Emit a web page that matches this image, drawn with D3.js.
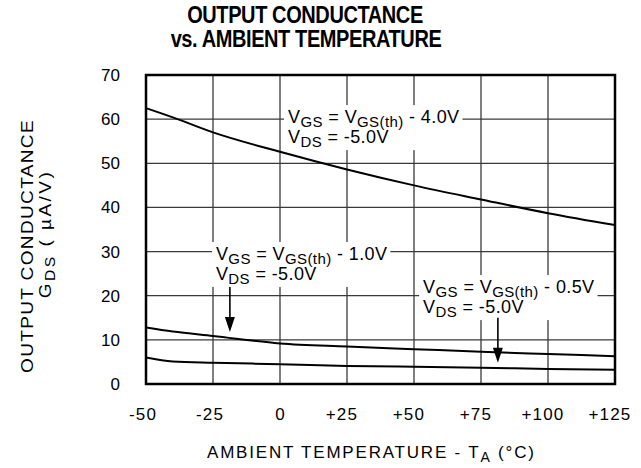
<!DOCTYPE html>
<html>
<head>
<meta charset="utf-8">
<script src="https://cdn.jsdelivr.net/npm/d3@7"></script>
<style>
  html, body { margin: 0; padding: 0; background: #fff; }
  svg { display: block; font-family: 'Liberation Sans', Arial, Helvetica, sans-serif; }
</style>
</head>
<body>
<div id="chart"></div>
<script>
/* -----------------    DATA     ------------------ */

// ambient temperature (°C)
const temps = [-50, -40, -25, 0, 25, 50, 75, 100, 125];

// output conductance GDS (µA/V), one series per gate drive
const gdsVgs40 = [62.5, 60.4, 57.0, 52.6, 48.6, 45.0, 41.8, 38.7, 36.0];
const gdsVgs10 = [12.8, 11.9, 10.9, 9.2, 8.5, 7.9, 7.3, 6.8, 6.3];
const gdsVgs05 = [6.0, 5.1, 4.8, 4.5, 4.1, 3.9, 3.7, 3.4, 3.2];

// ticks
const xTicks = [-50, -25, 0, 25, 50, 75, 100, 125];
const yTicks = [0, 10, 20, 30, 40, 50, 60, 70];

// curve labels (gate offsets below threshold)
const seriesOffsets = ['4.0', '1.0', '0.5'];

/* -----------------    SETTINGS     ------------------ */

const settings = {
    width: 641,
    height: 468,
    left: 146,
    right: 615,
    top: 75,
    bottom: 384,
    grid: '#3a3a3a',
    ink: '#000'
};

// where each label sits, in data units (temp, GDS at first baseline)
const labelAnchors = [
    { t: 3.0, g: 59.1 },
    { t: -23.9, g: 28.1 },
    { t: 53.4, g: 20.6 }
];

// arrows: temperature, from / to GDS
const arrows = [
    { t: -18.7, from: 22.0, to: 11.8 },
    { t: 81.3, from: 15.0, to: 4.8 }
];

/* -----------------    CHART     ------------------ */

const svg = d3.select('#chart')
    .append('svg')
    .attr('width', settings.width)
    .attr('height', settings.height);

const x = d3.scaleLinear()
    .domain([-50, 125])
    .range([settings.left, settings.right]);

const y = d3.scaleLinear()
    .domain([0, 70])
    .range([settings.bottom, settings.top]);

// grid
svg.append('g')
    .selectAll('line')
    .data(xTicks.slice(1, -1))
    .enter()
    .append('line')
    .attr('x1', d => x(d)).attr('x2', d => x(d))
    .attr('y1', settings.top).attr('y2', settings.bottom)
    .attr('stroke', settings.grid)
    .attr('stroke-width', 1.3);

svg.append('g')
    .selectAll('line')
    .data(yTicks.slice(1, -1))
    .enter()
    .append('line')
    .attr('x1', settings.left).attr('x2', settings.right)
    .attr('y1', d => y(d)).attr('y2', d => y(d))
    .attr('stroke', settings.grid)
    .attr('stroke-width', 1.3);

// curves
const line = d3.line()
    .x((d, i) => x(temps[i]))
    .y(d => y(d))
    .curve(d3.curveMonotoneX);

[gdsVgs40, gdsVgs10, gdsVgs05].forEach(series => {
    svg.append('path')
        .datum(series)
        .attr('d', line)
        .attr('fill', 'none')
        .attr('stroke', settings.ink)
        .attr('stroke-width', 2);
});

// frame
svg.append('rect')
    .attr('x', settings.left)
    .attr('y', settings.top)
    .attr('width', settings.right - settings.left)
    .attr('height', settings.bottom - settings.top)
    .attr('fill', 'none')
    .attr('stroke', settings.ink)
    .attr('stroke-width', 2.5);

// axes (labels only)
const xAxis = d3.axisBottom(x)
    .tickValues(xTicks)
    .tickSize(0)
    .tickPadding(24)
    .tickFormat(d => d > 0 ? '+' + d : String(d));

const gx = svg.append('g')
    .attr('transform', `translate(0, ${settings.bottom})`)
    .call(xAxis);
gx.select('.domain').remove();
gx.selectAll('text')
    .attr('font-size', 17)
    .attr('font-family', null)
    .attr('letter-spacing', 1.2)
    .attr('fill', settings.ink);

// keep the digits centred on the tick, sign hanging left
gx.selectAll('text').each(function (d) {
    if (d === 0) return;
    const probe = svg.append('text')
        .attr('font-size', 17)
        .attr('letter-spacing', 1.2)
        .text(d > 0 ? '+' : '-');
    const w = probe.node().getComputedTextLength();
    probe.remove();
    d3.select(this).attr('dx', -w / 2);
});

const yAxis = d3.axisLeft(y)
    .tickValues(yTicks)
    .tickSize(0)
    .tickPadding(26);

const gy = svg.append('g')
    .attr('transform', `translate(${settings.left}, 0)`)
    .call(yAxis);
gy.select('.domain').remove();
gy.selectAll('text')
    .attr('font-size', 17)
    .attr('font-family', null)
    .attr('fill', settings.ink);

/* -----------------    TEXT     ------------------ */

// text with subscripts: parts = [[string, isSub], ...]; [null, lineGap] starts a new line
function richText(sel, parts, size, subSize, drop) {
    let low = false;
    let newLine = null;
    const x0 = sel.attr('x');
    parts.forEach(([str, sub]) => {
        if (str === null) {
            newLine = sub - (low ? drop : 0);
            low = false;
            return;
        }
        const ts = sel.append('tspan').text(str)
            .attr('font-size', sub ? subSize : size);
        let dy = 0;
        if (newLine !== null) { ts.attr('x', x0); dy += newLine; newLine = null; }
        if (sub && !low) { dy += drop; low = true; }
        else if (!sub && low) { dy -= drop; low = false; }
        if (dy) ts.attr('dy', dy);
    });
}

// title (a bit taller than wide, like the printed original)
const title = svg.append('g')
    .attr('font-weight', 'bold')
    .attr('font-size', 20)
    .attr('letter-spacing', -0.4)
    .attr('text-anchor', 'middle');
title.append('text')
    .attr('transform', 'translate(305, 23) scale(1, 1.15)')
    .text('OUTPUT CONDUCTANCE');
title.append('text')
    .attr('transform', 'translate(306, 47) scale(1, 1.15)')
    .text('vs. AMBIENT TEMPERATURE');

// x title
const xt = svg.append('text')
    .attr('x', 207)
    .attr('y', 458)
    .attr('letter-spacing', 1.8);
richText(xt, [['AMBIENT TEMPERATURE - T', false], ['A', true], [' (°C)', false]], 17, 14, 4);

// y title
const yt = svg.append('g')
    .attr('text-anchor', 'middle');
yt.append('text')
    .attr('transform', 'translate(33, 246) rotate(-90) scale(1.12, 1)')
    .attr('font-size', 17)
    .attr('letter-spacing', 1.2)
    .text('OUTPUT CONDUCTANCE');
const yt2 = yt.append('text')
    .attr('transform', 'translate(51, 234) rotate(-90) scale(1.12, 1)')
    .attr('letter-spacing', 2.2);
richText(yt2, [['G', false], ['DS', true], [' ( µA/V)', false]], 17, 14, 4);

// curve labels with white boxes
seriesOffsets.forEach((off, i) => {
    const a = labelAnchors[i];
    const g = svg.append('g');
    const box = g.append('rect').attr('fill', '#fff');
    const t = g.append('text')
        .attr('x', x(a.t)).attr('y', y(a.g))
        .attr('letter-spacing', 0.4);
    richText(t, [
        ['V', false], ['GS', true], [' = V', false], ['GS(th)', true], [` - ${off}V`, false],
        [null, 20],
        ['V', false], ['DS', true], [' = -5.0V', false]
    ], 18, 15, 4);

    const b = t.node().getBBox();
    box.attr('x', b.x - 4).attr('y', b.y - 2)
        .attr('width', b.width + 7).attr('height', b.height + 2);
});

// arrows
arrows.forEach(a => {
    const ax = x(a.t);
    const yTip = y(a.to);
    const head = 15;
    svg.append('line')
        .attr('x1', ax).attr('x2', ax)
        .attr('y1', y(a.from)).attr('y2', yTip - head + 2)
        .attr('stroke', settings.ink)
        .attr('stroke-width', 1.6);
    svg.append('path')
        .attr('d', `M${ax - 5},${yTip - head} L${ax + 5},${yTip - head} L${ax},${yTip} Z`)
        .attr('fill', settings.ink);
});
</script>
</body>
</html>
